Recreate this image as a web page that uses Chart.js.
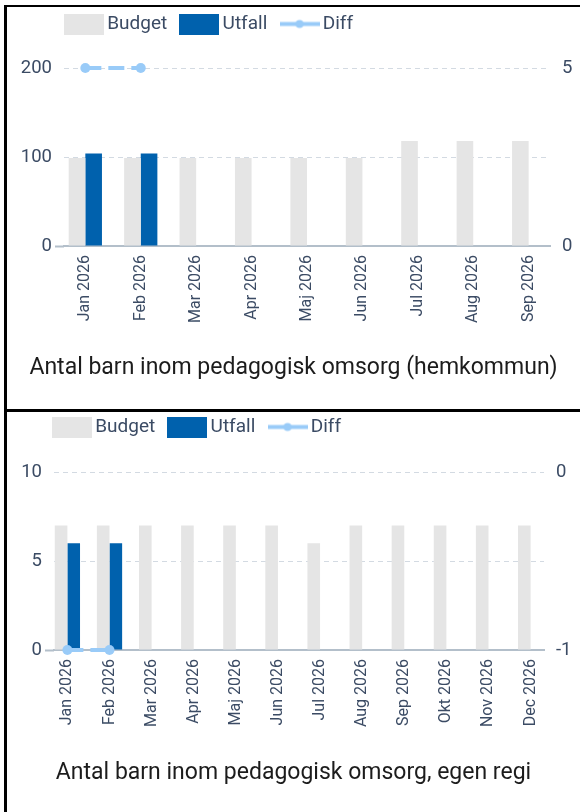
<!DOCTYPE html>
<html>
<head>
<meta charset="utf-8">
<script src="https://cdn.jsdelivr.net/npm/chart.js@4"></script>
<style>
html,body{margin:0;padding:0;background:#fff;width:580px;height:812px;overflow:hidden;}
#f1{position:absolute;left:4px;top:5px;width:600px;height:402px;border-left:3px solid #000;border-top:2px solid #000;border-bottom:3px solid #000;}
#f2{position:absolute;left:4px;top:412px;width:600px;height:400px;border-left:3px solid #000;}
canvas{position:absolute;left:0;top:0;}
</style>
</head>
<body>
<div id="f1"><canvas id="c1" width="573" height="402" style="width:573px;height:402px"></canvas></div>
<div id="f2"><canvas id="c2" width="573" height="400" style="width:573px;height:400px"></canvas></div>
<script>
// ---- data ----
const months1 = ['Jan 2026','Feb 2026','Mar 2026','Apr 2026','Maj 2026','Jun 2026','Jul 2026','Aug 2026','Sep 2026'];
const budget1 = [99, 99, 99, 99, 99, 99, 118, 118, 118];
const utfall1 = [104, 104, null, null, null, null, null, null, null];
const diff1   = [5, 5, null, null, null, null, null, null, null];
const yTicks1  = [0, 100, 200];
const y1Ticks1 = [0, 5];
const title1 = 'Antal barn inom pedagogisk omsorg (hemkommun)';

const months2 = ['Jan 2026','Feb 2026','Mar 2026','Apr 2026','Maj 2026','Jun 2026','Jul 2026','Aug 2026','Sep 2026','Okt 2026','Nov 2026','Dec 2026'];
const budget2 = [7, 7, 7, 7, 7, 7, 6, 7, 7, 7, 7, 7];
const utfall2 = [6, 6, null, null, null, null, null, null, null, null, null, null];
const diff2   = [-1, -1, null, null, null, null, null, null, null, null, null, null];
const yTicks2  = [0, 5, 10];
const y1Ticks2 = [-1, 0];
const title2 = 'Antal barn inom pedagogisk omsorg, egen regi';

// ---- style ----
const BUDGET_C = '#e5e5e5';
const UTFALL_C = '#0061ad';
const DIFF_C = '#99cbf8';
const TEXT_C = '#3b4b64';
const TITLE_C = '#1c1c1c';
const GRID_C = '#d3dae2';
const ZERO_C = '#b3bfca';

Chart.defaults.font.family = 'Roboto';

function swatch(color) {
  const c = document.createElement('canvas');
  c.width = 40; c.height = 21;
  const g = c.getContext('2d');
  g.fillStyle = color; g.fillRect(0, 0, 40, 21);
  return c;
}
function lineSwatch(color) {
  const c = document.createElement('canvas');
  c.width = 40; c.height = 21;
  const g = c.getContext('2d');
  g.strokeStyle = color; g.lineWidth = 4;
  g.beginPath(); g.moveTo(0, 10.5); g.lineTo(40, 10.5); g.stroke();
  g.fillStyle = color;
  g.beginPath(); g.arc(20, 10.5, 4, 0, Math.PI * 2); g.fill();
  return c;
}

function makeChart(id, labels, budget, utfall, diff, yTicks, y1Ticks, title, L) {
  const idx = labels.map((_, i) => i);
  const pts = arr => arr.map((v, i) => ({x: i, y: v}));
  const isZero = ctx => ctx.tick && ctx.tick.value === 0;
  return new Chart(document.getElementById(id), {
    type: 'bar',
    data: {
      datasets: [
        {label: 'Budget', data: pts(budget), backgroundColor: BUDGET_C, borderWidth: 0, order: 1},
        {label: 'Utfall', data: pts(utfall), backgroundColor: UTFALL_C, borderWidth: 0, order: 1},
        {type: 'line', label: 'Diff', data: pts(diff), yAxisID: 'y1', borderColor: DIFF_C, backgroundColor: DIFF_C,
         borderWidth: 4, borderDash: [16, 7], pointRadius: 5, pointHoverRadius: 5, pointBorderWidth: 0,
         clip: false, order: 0, spanGaps: false}
      ]
    },
    options: {
      responsive: false, animation: false, devicePixelRatio: 1,
      categoryPercentage: 0.6, barPercentage: 1,
      layout: {padding: {top: L.padTop, left: 0, right: 0, bottom: 0}},
      plugins: {
        legend: {
          position: 'top', align: 'start',
          labels: {
            usePointStyle: true, pointStyleWidth: 27.4, padding: 18.5, color: TEXT_C, font: {size: 19},
            generateLabels: chart => chart.data.datasets.map((ds, i) => ({
              text: ds.label,
              pointStyle: ds.type === 'line' ? lineSwatch(ds.borderColor) : swatch(ds.backgroundColor),
              datasetIndex: i, hidden: false, lineWidth: 0, fontColor: TEXT_C
            }))
          }
        },
        title: {display: true, position: 'bottom', text: title, color: TITLE_C,
                font: {size: 23, weight: 'normal'}, padding: {top: 10, bottom: L.titleBottom}},
        tooltip: {enabled: false}
      },
      scales: {
        x: {
          type: 'linear', offset: false, bounds: 'data',
          min: -L.a, max: labels.length - 1 + L.a,
          afterBuildTicks: s => { s.ticks = idx.map(v => ({value: v})); },
          grid: {display: false, drawTicks: false},
          border: {display: true, color: ZERO_C, width: 2},
          ticks: {autoSkip: false, minRotation: 90, maxRotation: 90, padding: 9, color: TEXT_C,
                  font: {size: 16}, callback: v => labels[v]},
          afterFit: s => { s.height = L.xH; }
        },
        y: {
          position: 'left', min: yTicks[0], max: yTicks[yTicks.length - 1],
          afterBuildTicks: s => { s.ticks = yTicks.map(v => ({value: v})); },
          grid: {color: GRID_C, lineWidth: 1, drawTicks: true, tickLength: 9, tickWidth: 2,
                 tickColor: ctx => isZero(ctx) ? ZERO_C : 'rgba(0,0,0,0)', tickBorderDash: []},
          border: {display: false, dash: [5, 4]},
          ticks: {padding: 3, color: TEXT_C, font: {size: 18.5}},
          afterFit: s => { s.width = L.yW; }
        },
        y1: {
          position: 'right', min: y1Ticks[0], max: y1Ticks[y1Ticks.length - 1],
          afterBuildTicks: s => { s.ticks = y1Ticks.map(v => ({value: v})); },
          grid: {display: false, drawTicks: false},
          border: {display: false},
          ticks: {padding: 12, color: TEXT_C, font: {size: 18.5}},
          afterFit: s => { s.width = L.y1W; }
        }
      }
    },
    plugins: [{
      id: 'legendPlace',
      afterLayout(chart) {
        const lg = chart.legend;
        if (!lg) return;
        const h = lg.height;
        lg.left = L.legLeft; lg.right = chart.width; lg.width = lg.right - lg.left;
        lg.top = L.legTop; lg.bottom = lg.top + h;
      }
    }]
  });
}

makeChart('c1', months1, budget1, utfall1, diff1, yTicks1, y1Ticks1, title1,
  {padTop: 13.5, titleBottom: 27.2, xH: 98.2, yW: 57, y1W: 30, a: 0.385, legLeft: 44.8, legTop: -11});
makeChart('c2', months2, budget2, utfall2, diff2, yTicks2, y1Ticks2, title2,
  {padTop: 12.5, titleBottom: 25.2, xH: 99.2, yW: 47, y1W: 36, a: 0.318, legLeft: 32.8, legTop: -13});
</script>
</body>
</html>
